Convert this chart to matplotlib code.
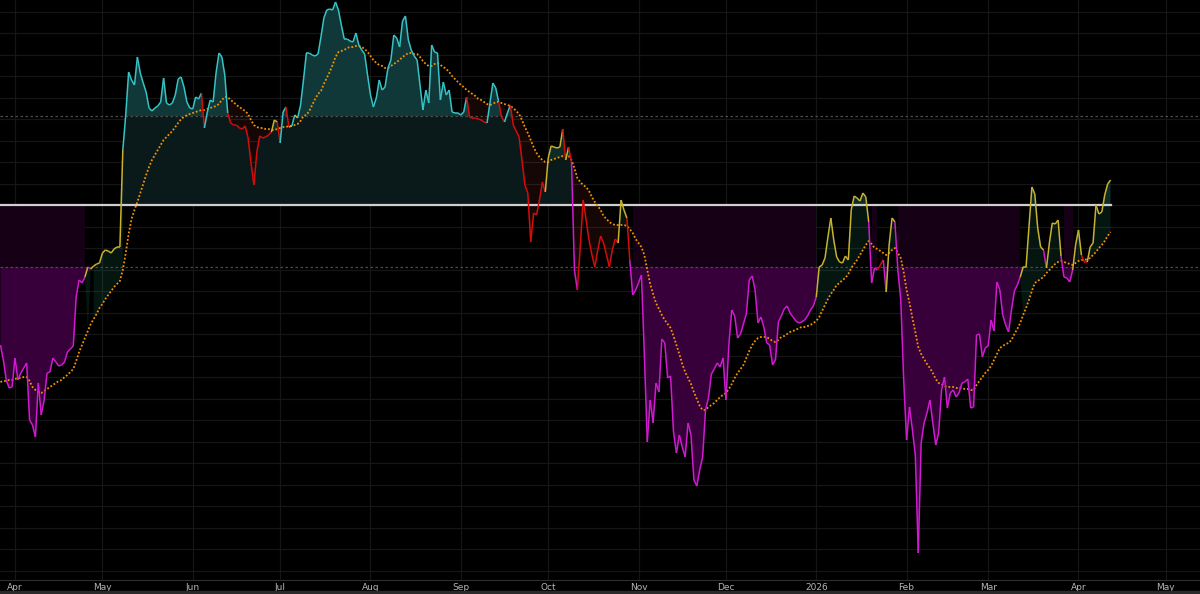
import numpy as np
import pandas as pd
import matplotlib
matplotlib.use("Agg")
import matplotlib.pyplot as plt
import matplotlib.dates as mdates
from matplotlib.collections import LineCollection
from matplotlib.patches import Rectangle

START = "2025-03-27"

# oscillator levels
MID = 0
UPPER = 89
LOWER = -62
GRID_STEP = 21.5

# daily oscillator values
osc = np.array([
    -140, -155, -175, -183, -182, -153, -175, -168, -163, -158,
    -215, -220, -232, -178, -210, -195, -168, -167, -153, -157,
    -161, -160, -157, -147, -144, -141, -92, -75, -78, -72,
    -62, -64, -61, -59, -58, -48, -45, -46, -48, -44,
    -42, -42, 55, 90, 133, 125, 120, 148, 132, 122,
    113, 97, 94, 97, 99, 103, 127, 102, 100, 102,
    110, 126, 128, 118, 103, 97, 96, 108, 106, 112,
    77, 93, 105, 103, 132, 152, 148, 130, 92, 82,
    80, 80, 77, 76, 79, 67, 42, 20, 53, 69,
    67, 68, 70, 73, 85, 83, 62, 93, 98, 78,
    79, 90, 87, 100, 125, 152, 152, 150, 149, 151,
    168, 187, 195, 196, 195, 203, 195, 180, 166, 166,
    164, 163, 172, 160, 155, 151, 130, 110, 98, 107,
    125, 115, 118, 137, 145, 170, 167, 158, 184, 189,
    165, 155, 149, 145, 120, 95, 115, 102, 160, 153,
    152, 105, 123, 110, 115, 93, 92, 92, 90, 93,
    108, 88, 87, 87, 86, 85, 83, 82, 102, 122,
    117, 103, 88, 83, 92, 100, 80, 74, 68, 45,
    20, 12, -37, -8, -10, 5, 23, 13, 47, 59,
    58, 57, 58, 76, 45, 58, 43, -65, -85, -42,
    5, -15, -35, -50, -62, -45, -31, -38, -50, -62,
    -45, -34, -38, 5, -5, -13, -55, -90, -85, -78,
    -70, -150, -237, -195, -218, -178, -187, -134, -138, -173,
    -171, -227, -248, -230, -242, -252, -218, -230, -275, -281,
    -265, -252, -205, -193, -169, -164, -158, -162, -153, -195,
    -140, -105, -111, -133, -129, -119, -109, -75, -71, -85,
    -118, -112, -122, -138, -140, -160, -155, -117, -111, -104,
    -101, -108, -112, -116, -118, -117, -115, -111, -105, -101,
    -92, -62, -60, -53, -32, -13, -35, -52, -57, -58,
    -51, -55, -5, 9, 7, 4, 12, 8, -17, -78,
    -63, -65, -60, -55, -87, -40, -13, -17, -65, -95,
    -175, -235, -202, -225, -250, -348, -238, -218, -208, -195,
    -218, -240, -228, -185, -172, -203, -188, -185, -192, -188,
    -178, -177, -174, -203, -202, -130, -129, -152, -143, -141,
    -115, -126, -77, -85, -110, -120, -127, -105, -86, -80,
    -72, -62, -62, -22, 18, 11, -23, -42, -45, -63,
    -38, -18, -19, -15, -51, -72, -73, -77, -65, -40,
    -25, -50, -57, -57, -42, -38, 0, -9, -7, 10,
    21, 25,
], dtype=float)

# signal line (moving average of the oscillator)
ma = np.array([
    -177, -176, -176, -175, -175, -174, -173, -173, -172, -172,
    -176, -182, -185, -187, -188, -186, -184, -182, -180, -178,
    -176, -175, -172, -170, -167, -164, -156, -147, -140, -133,
    -126, -119, -114, -109, -103, -99, -94, -90, -86, -82,
    -79, -76, -65, -48, -29, -14, -5, 3, 12, 21,
    30, 38, 45, 50, 55, 60, 65, 68, 71, 74,
    78, 82, 86, 88, 90, 91, 92, 93, 94, 95,
    95, 96, 97, 98, 99, 101, 105, 108, 108, 105,
    103, 100, 98, 96, 94, 91, 85, 80, 78, 77,
    77, 76, 76, 75, 75, 76, 77, 78, 78, 79,
    79, 80, 81, 84, 89, 90, 94, 100, 106, 111,
    114, 121, 127, 133, 140, 148, 153, 154, 155, 157,
    158, 158, 159, 159, 158, 156, 153, 149, 145, 142,
    140, 139, 137, 137, 139, 141, 143, 145, 148, 150,
    152, 152, 151, 151, 148, 144, 141, 139, 139, 141,
    142, 140, 138, 136, 133, 129, 126, 123, 120, 118,
    115, 113, 111, 109, 106, 105, 103, 101, 100, 101,
    103, 103, 102, 101, 100, 99, 97, 94, 91, 85,
    78, 72, 65, 58, 52, 48, 45, 43, 43, 45,
    46, 47, 48, 49, 50, 49, 45, 37, 27, 23,
    20, 18, 14, 8, 3, -1, -5, -11, -14, -17,
    -19, -20, -20, -20, -20, -21, -24, -28, -34, -38,
    -42, -50, -65, -79, -89, -98, -104, -110, -115, -119,
    -123, -131, -140, -149, -159, -167, -173, -179, -187, -194,
    -201, -205, -205, -202, -200, -198, -195, -192, -190, -188,
    -184, -179, -173, -168, -164, -160, -153, -146, -140, -136,
    -133, -132, -132, -132, -134, -136, -137, -135, -132, -131,
    -129, -127, -126, -125, -123, -122, -122, -121, -120, -118,
    -116, -112, -106, -100, -94, -89, -85, -80, -78, -75,
    -73, -69, -63, -59, -55, -50, -45, -40, -36, -39,
    -43, -44, -46, -48, -50, -48, -45, -43, -48, -53,
    -67, -85, -98, -113, -127, -142, -149, -154, -159, -163,
    -168, -174, -178, -179, -181, -182, -182, -182, -183, -183,
    -183, -184, -184, -185, -185, -180, -176, -172, -168, -165,
    -161, -155, -149, -143, -141, -139, -138, -135, -129, -124,
    -118, -110, -103, -95, -86, -78, -76, -74, -72, -68,
    -65, -62, -59, -57, -56, -57, -58, -59, -60, -58,
    -56, -55, -55, -54, -53, -50, -47, -43, -40, -36,
    -31, -27,
], dtype=float)

month_ticks = pd.date_range("2025-04-01", "2026-05-01", freq="MS")

CYAN = "#36c3c6"
YELLOW = "#c8b12f"
RED = "#d50c0c"
MAGENTA = "#d01bd0"
ORANGE = "#f39200"

dates = pd.date_range(START, periods=len(osc), freq="D")
x = mdates.date2num(dates)

fig = plt.figure(figsize=(12, 5.94), dpi=100, facecolor="black")
ax = fig.add_axes([0, 14 / 594, 1, 580 / 594])
ax.set_facecolor("black")

# regime masks
bear = (osc < LOWER) & (ma < MID)
inside = (osc <= UPPER) & ~bear

# teal area above the midline
ax.fill_between(x, MID, osc, where=osc > MID, interpolate=True,
                color="#0a1a1a", lw=0, zorder=1)
ax.fill_between(x, UPPER, osc, where=osc > UPPER, interpolate=True,
                color="#113838", lw=0, zorder=1.1)

# purple area in the bearish regime
ax.fill_between(x, MID, LOWER, where=bear, step="mid",
                color="#150016", lw=0, zorder=1)
ax.fill_between(x, LOWER, osc, where=bear, interpolate=True,
                color="#37003b", lw=0, zorder=1.1)

# oscillator vs signal
ax.fill_between(x, osc, ma, where=inside & (osc < ma), interpolate=True,
                color="#ff5050", alpha=0.09, lw=0, zorder=1.2)
ax.fill_between(x, osc, ma, where=inside & (osc >= ma), interpolate=True,
                color="#2aa07a", alpha=0.14, lw=0, zorder=1.2)

# level lines
ax.axhline(UPPER, color="#4c4c4c", lw=0.9, ls=(0, (2, 2)), zorder=2)
ax.axhline(LOWER, color="#4c4c4c", lw=0.9, ls=(0, (2, 2)), zorder=2)
ax.plot(x, np.full_like(osc, MID), color="#cfcfcf", lw=1.6, zorder=2.2)

# signal line
ax.plot(x, ma, color=ORANGE, lw=1.3, ls=(0, (1, 1.1)), zorder=3)

# oscillator line, coloured segment by segment
end = osc[1:]
seg_colors = np.where(end > UPPER, CYAN,
             np.where(end < LOWER, MAGENTA,
             np.where(end >= ma[1:], YELLOW, RED)))
pts = np.column_stack([x, osc])
segs = np.stack([pts[:-1], pts[1:]], axis=1)
ax.add_collection(LineCollection(segs, colors=seg_colors, linewidths=1.1, zorder=4))

# axes and grid
ax.set_xlim(x[0] - 0.15, x[0] + 411.7)
ax.set_ylim(-375, 205)
ax.set_yticks(MID + GRID_STEP * np.arange(-17, 10))
ax.set_xticks(mdates.date2num(month_ticks))
ax.set_xticklabels([d.strftime("%Y") if d.month == 1 else d.strftime("%b") for d in month_ticks])
ax.grid(True, color="#161616", lw=0.9)
ax.set_axisbelow(True)
ax.tick_params(axis="y", left=False, labelleft=False)
ax.tick_params(axis="x", length=0, pad=2, labelsize=6.5, colors="#b5b5b5")
for side in ["top", "left", "right"]:
    ax.spines[side].set_visible(False)
ax.spines["bottom"].set_color("#303030")

fig.patches.append(Rectangle((0, 0), 1, 3 / 594, transform=fig.transFigure,
                             color="#2a2a2a", zorder=0))

fig.savefig("out.png", dpi=100, facecolor="black")
